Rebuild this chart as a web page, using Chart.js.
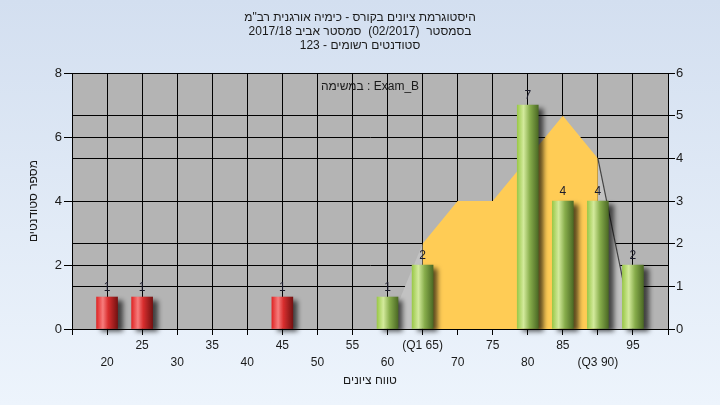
<!DOCTYPE html>
<html>
<head>
<meta charset="utf-8">
<script src="https://cdn.jsdelivr.net/npm/chart.js@4"></script>
<style>
  html, body { margin: 0; padding: 0; }
  body { width: 720px; height: 405px; overflow: hidden; background: linear-gradient(#d3dff0, #edf4fc); }
  canvas { display: block; }
</style>
</head>
<body>
<canvas id="myCanvas" width="720" height="405"></canvas>
<script>
const grades = [20, 25, 30, 35, 40, 45, 50, 55, 60, 65, 70, 75, 80, 85, 90, 95];
const gradeLabels = ['20', '25', '30', '35', '40', '45', '50', '55', '60', '(Q1 65)', '70', '75', '80', '85', '(Q3 90)', '95'];
const students = [1, 1, 0, 0, 0, 1, 0, 0, 1, 2, 0, 0, 7, 4, 4, 2];
const curve = [null, null, null, null, null, null, null, null, 0, 2, 3, 3, 4, 5, 4, 0];
const q1 = 65, q3 = 90, passMark = 60;

const titleLines = [
  'היסטוגרמת ציונים בקורס - כימיה אורגנית רב"מ',
  'בסמסטר  (02/2017)  סמסטר אביב 2017/18',
  'סטודנטים רשומים - 123'
];
const seriesName = 'במשימה : Exam_B';
const xTitle = 'טווח ציונים';
const yTitle = 'מספר סטודנטים';

Chart.defaults.font.family = "'Liberation Sans', Arial, sans-serif";
Chart.defaults.font.size = 12;
Chart.defaults.color = '#1a1a1a';

function barFill(c) {
  const chart = c.chart;
  if (!chart.chartArea || !c.raw) return '#cc2222';
  const x = chart.scales.x.getPixelForValue(c.raw.x);
  const g = chart.ctx.createLinearGradient(x - 10.5, 0, x + 10.5, 0);
  if (c.raw.x < passMark) {
    g.addColorStop(0, '#e02626');
    g.addColorStop(0.3, '#f77d7d');
    g.addColorStop(0.55, '#d92e2e');
    g.addColorStop(1, '#761212');
  } else {
    g.addColorStop(0, '#9bc94a');
    g.addColorStop(0.3, '#d3ea9c');
    g.addColorStop(0.6, '#87ad4b');
    g.addColorStop(1, '#4c6a25');
  }
  return g;
}

const plotBg = {
  id: 'plotBg',
  beforeDraw(chart) {
    const a = chart.chartArea, c = chart.ctx;
    c.save();
    c.fillStyle = '#b4b4b4';
    c.fillRect(a.left, a.top, a.right - a.left, a.bottom - a.top);
    c.restore();
  }
};

const barShadow = {
  id: 'barShadow',
  beforeDatasetDraw(chart, args) {
    if (args.index !== 0) return;
    const c = chart.ctx;
    c.save();
    c.shadowColor = 'rgba(0,0,0,0.65)';
    c.shadowBlur = 5;
    c.shadowOffsetX = 5;
    c.shadowOffsetY = 3;
  },
  afterDatasetDraw(chart, args) {
    if (args.index === 0) chart.ctx.restore();
  }
};

const barValues = {
  id: 'barValues',
  afterDatasetsDraw(chart) {
    const c = chart.ctx;
    c.save();
    c.font = "12px 'Liberation Sans', Arial, sans-serif";
    c.fillStyle = '#1a1a2a';
    c.textAlign = 'center';
    c.textBaseline = 'bottom';
    chart.getDatasetMeta(0).data.forEach((bar, i) => {
      if (students[i] > 0) c.fillText(String(students[i]), bar.x, bar.y - 3);
    });
    c.restore();
  }
};

const seriesLabel = {
  id: 'seriesLabel',
  afterDraw(chart) {
    const a = chart.chartArea, c = chart.ctx;
    c.save();
    c.font = "12px 'Liberation Sans', Arial, sans-serif";
    c.fillStyle = '#1a1a1a';
    c.textAlign = 'center';
    c.textBaseline = 'middle';
    c.fillText(seriesName, (a.left + a.right) / 2, a.top + 13);
    c.restore();
  }
};

const ctx = document.getElementById('myCanvas').getContext('2d');

const myChart = new Chart(ctx, {
  type: 'bar',
  data: {
    datasets: [{
      type: 'bar',
      data: grades.map((g, i) => ({ x: g, y: students[i] || null })),
      backgroundColor: barFill,
      borderWidth: 0,
      barThickness: 21,
      yAxisID: 'y',
      order: 0,
      clip: false
    }, {
      type: 'line',
      data: grades.map((g, i) => ({ x: g, y: curve[i] })),
      yAxisID: 'y2',
      fill: 'origin',
      pointRadius: 0,
      borderWidth: 1.2,
      tension: 0,
      backgroundColor: '#ffcc55',
      borderColor: 'rgba(0,0,0,0)',
      order: 1,
      segment: {
        backgroundColor: s => (s.p0.parsed.x >= q1 && s.p1.parsed.x <= q3) ? '#ffcc55' : '#c2c2c2',
        borderColor: s => s.p0.parsed.x >= q3 ? '#444' : 'rgba(0,0,0,0)'
      }
    }]
  },
  options: {
    responsive: false,
    animation: false,
    plugins: {
      legend: { display: false },
      tooltip: { enabled: false },
      title: {
        display: true,
        text: titleLines,
        color: '#1a1a1a',
        font: { size: 12, weight: 'normal' },
        padding: { top: 10, bottom: 20 }
      }
    },
    scales: {
      x: {
        type: 'linear',
        min: 15,
        max: 100,
        offset: false,
        grid: { color: '#000', tickColor: '#000', tickLength: 6, offset: false },
        border: { color: '#000' },
        ticks: {
          stepSize: 5,
          autoSkip: false,
          maxRotation: 0,
          padding: 3,
          font: { size: 12, lineHeight: 1.35 },
          callback: (v) => {
            const i = grades.indexOf(v);
            if (i < 0) return '';
            return i % 2 === 0 ? ['', gradeLabels[i]] : gradeLabels[i];
          }
        },
        title: { display: true, text: xTitle, padding: 17 },
        afterFit: s => { s.height = 76; }
      },
      y: {
        position: 'left',
        min: 0,
        max: 8,
        grid: { color: '#000', tickColor: '#000', tickLength: 8 },
        border: { color: '#000' },
        ticks: { stepSize: 2, padding: 2, font: { size: 13 } },
        title: { display: true, text: yTitle, padding: 26 },
        afterFit: s => { s.width = 72; }
      },
      y2: {
        position: 'right',
        min: 0,
        max: 6,
        grid: { color: '#000', tickColor: '#000', tickLength: 7 },
        border: { color: '#000' },
        ticks: { stepSize: 1, padding: 1, font: { size: 13 } },
        afterFit: s => { s.width = 52; }
      }
    }
  },
  plugins: [plotBg, barShadow, barValues, seriesLabel]
});
</script>
</body>
</html>
